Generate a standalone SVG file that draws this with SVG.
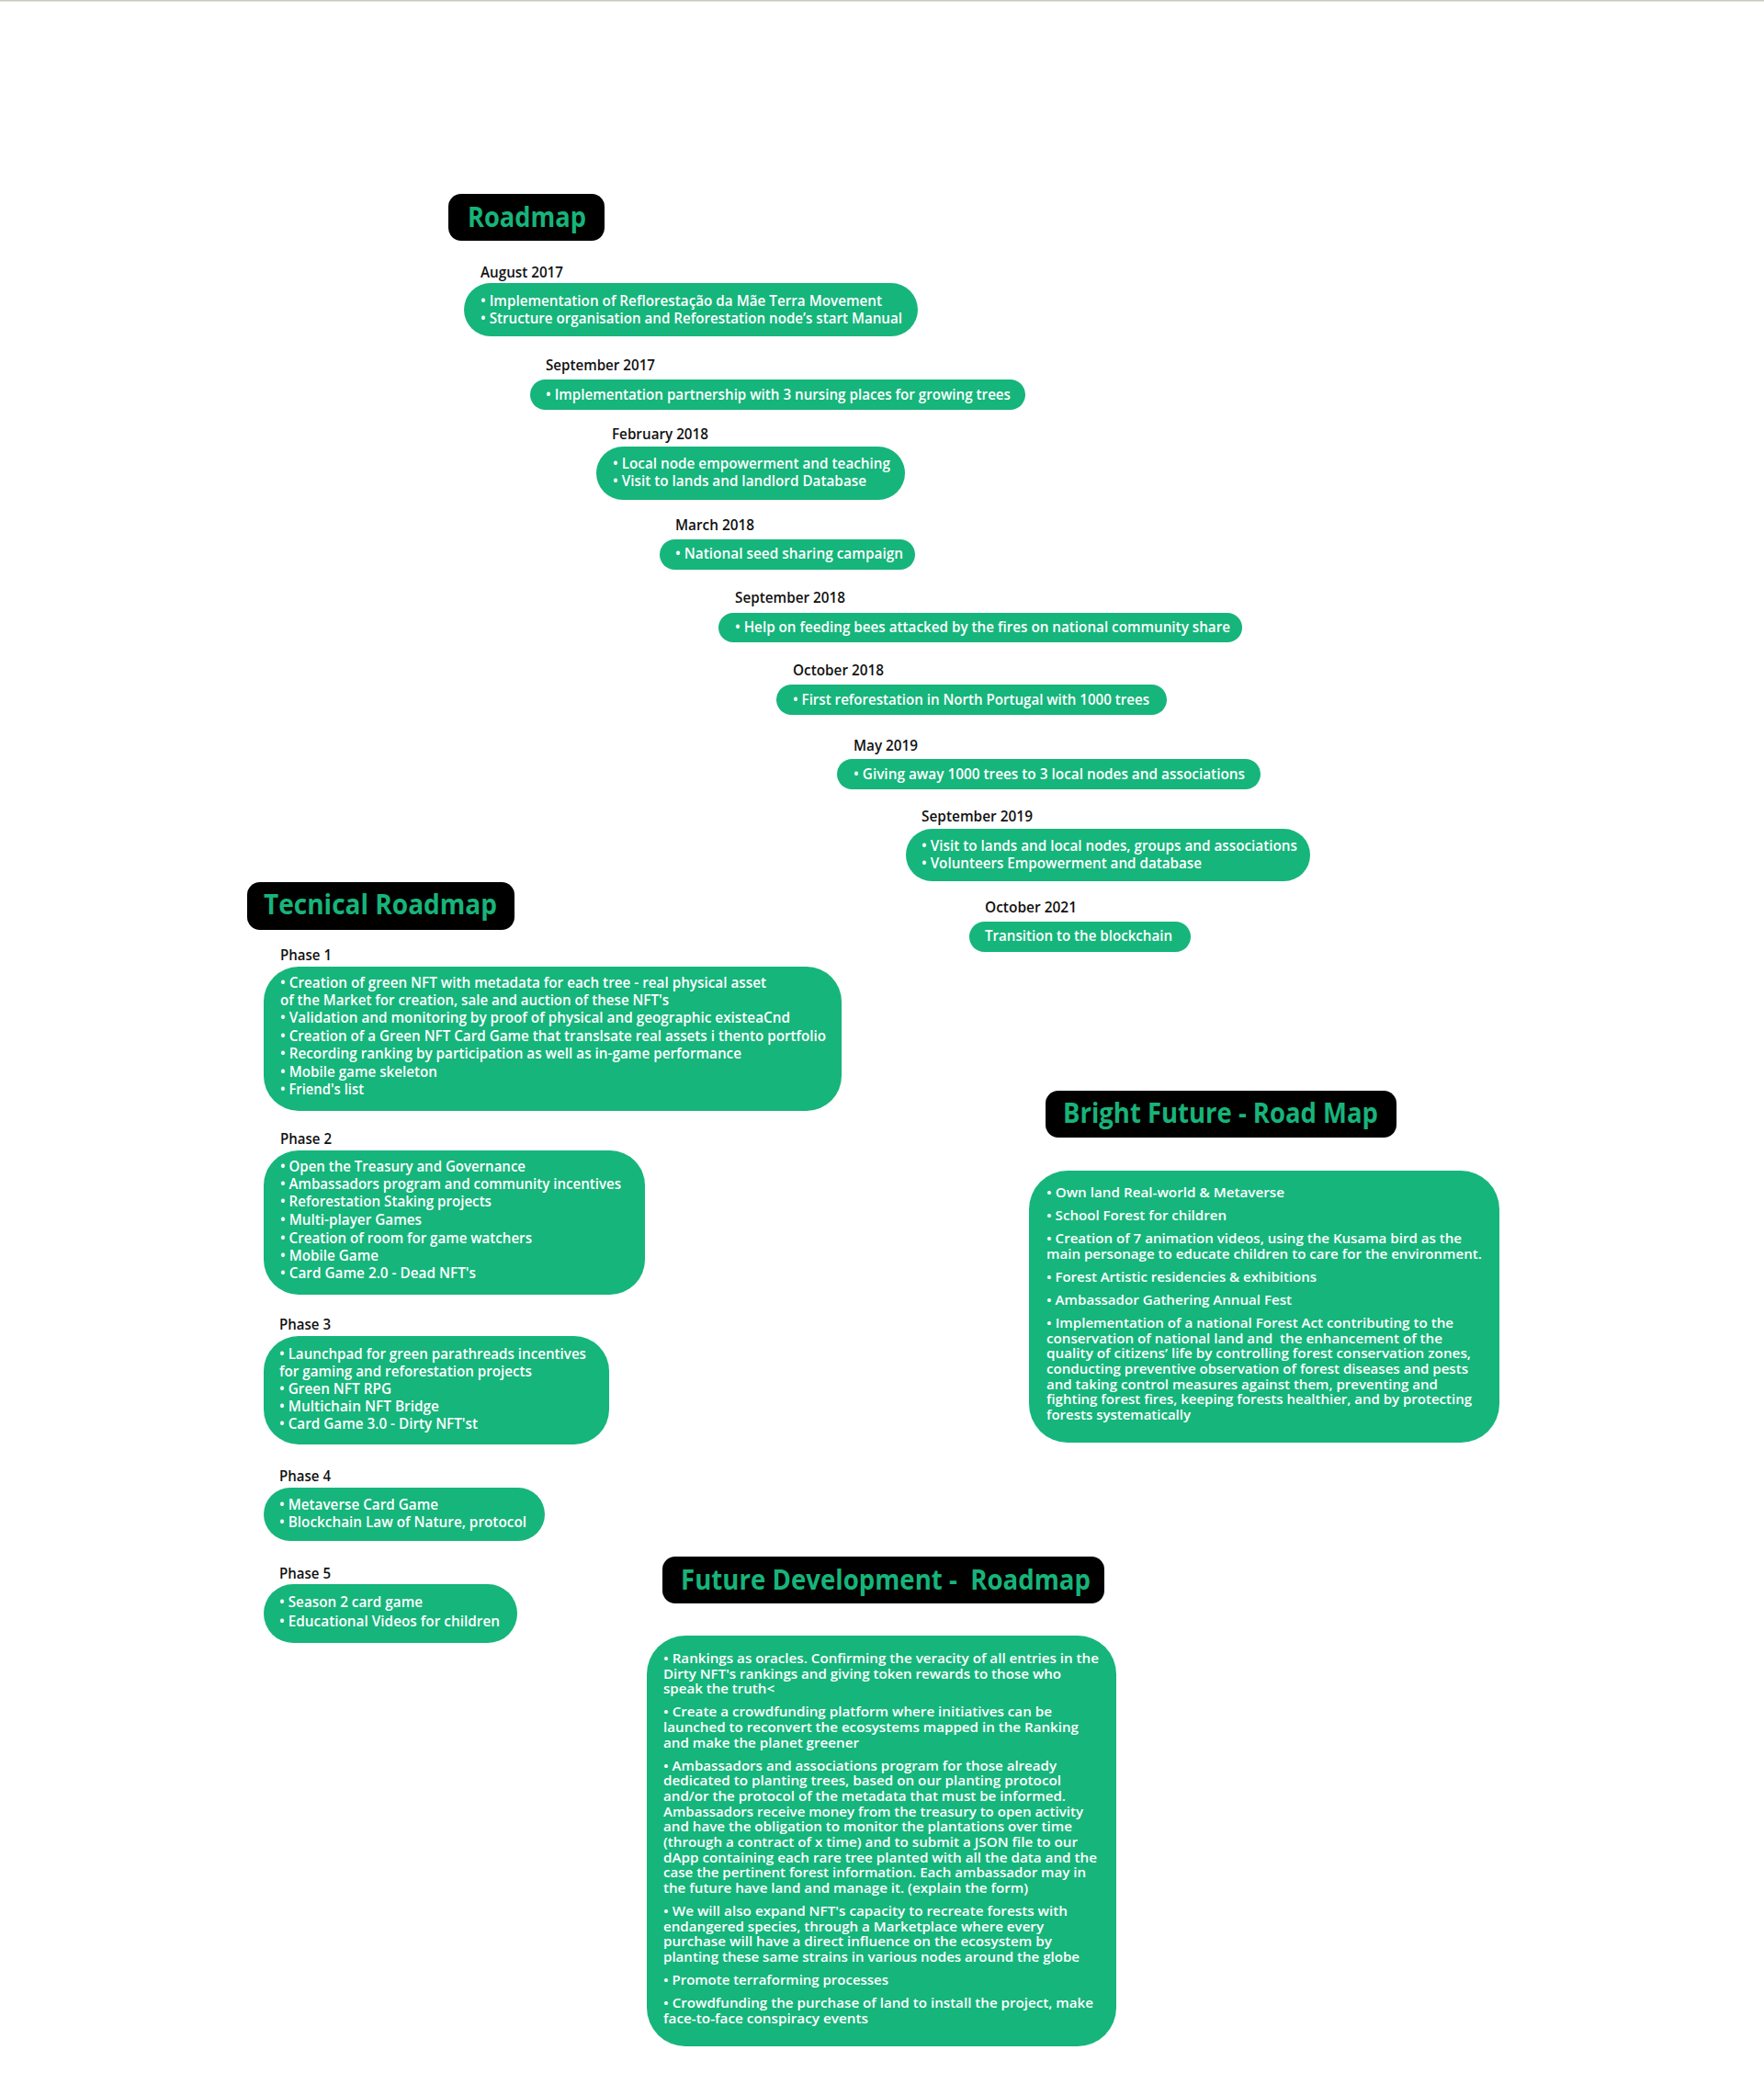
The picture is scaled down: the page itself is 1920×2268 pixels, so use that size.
<svg xmlns="http://www.w3.org/2000/svg" width="1920" height="2268" viewBox="0 0 1920 2268">
<style>
.bg{fill:#ffffff}
.pill{fill:#16b57b}
.tbox{fill:#000000}
.ttl{font-family:"Open Sans","Noto Sans",sans-serif;font-weight:700;font-size:31px;fill:#17b47a;white-space:pre}
.lbl{font-family:"Open Sans","Noto Sans",sans-serif;font-weight:600;font-size:16.5px;fill:#111111}
.pt{font-family:"Open Sans","Noto Sans",sans-serif;font-weight:600;font-size:16.5px;fill:#ffffff}
.par{font-family:"Open Sans","Noto Sans",sans-serif;font-weight:600;font-size:15px;fill:#ffffff;white-space:pre}
</style>
<rect class="bg" x="0" y="0" width="1920" height="2268"/>
<rect x="0" y="0" width="1920" height="1.5" fill="#c9c9bd"/>

<g id="title-roadmap">
<rect class="tbox" x="488" y="211" width="170" height="51" rx="14"/>
<text class="ttl" x="509" y="247" textLength="129" lengthAdjust="spacingAndGlyphs">Roadmap</text>
</g>

<g id="aug2017">
<text class="lbl" x="523" y="302" textLength="90" lengthAdjust="spacingAndGlyphs">August 2017</text>
<rect class="pill" x="505" y="308" width="494" height="58" rx="29"/>
<text class="pt" x="523" y="333" textLength="437" lengthAdjust="spacingAndGlyphs">• Implementation of Reflorestação da Mãe Terra Movement</text>
<text class="pt" x="523" y="352" textLength="459" lengthAdjust="spacingAndGlyphs">• Structure organisation and Reforestation node’s start Manual</text>
</g>

<g id="sep2017">
<text class="lbl" x="594" y="403" textLength="119" lengthAdjust="spacingAndGlyphs">September 2017</text>
<rect class="pill" x="577" y="413" width="539" height="33" rx="16.5"/>
<text class="pt" x="594" y="435" textLength="506" lengthAdjust="spacingAndGlyphs">• Implementation partnership with 3 nursing places for growing trees</text>
</g>

<g id="feb2018">
<text class="lbl" x="666" y="478" textLength="105" lengthAdjust="spacingAndGlyphs">February 2018</text>
<rect class="pill" x="649" y="486" width="336" height="58" rx="29"/>
<text class="pt" x="667" y="510" textLength="302" lengthAdjust="spacingAndGlyphs">• Local node empowerment and teaching</text>
<text class="pt" x="667" y="529" textLength="276" lengthAdjust="spacingAndGlyphs">• Visit to lands and landlord Database</text>
</g>

<g id="mar2018">
<text class="lbl" x="735" y="577" textLength="86" lengthAdjust="spacingAndGlyphs">March 2018</text>
<rect class="pill" x="718" y="587" width="278" height="33" rx="16.5"/>
<text class="pt" x="735" y="608" textLength="248" lengthAdjust="spacingAndGlyphs">• National seed sharing campaign</text>
</g>

<g id="sep2018">
<text class="lbl" x="800" y="656" textLength="120" lengthAdjust="spacingAndGlyphs">September 2018</text>
<rect class="pill" x="782" y="667" width="570" height="32" rx="16"/>
<text class="pt" x="800" y="688" textLength="539" lengthAdjust="spacingAndGlyphs">• Help on feeding bees attacked by the fires on national community share</text>
</g>

<g id="oct2018">
<text class="lbl" x="863" y="735" textLength="99" lengthAdjust="spacingAndGlyphs">October 2018</text>
<rect class="pill" x="845" y="745" width="425" height="33" rx="16.5"/>
<text class="pt" x="863" y="767" textLength="388" lengthAdjust="spacingAndGlyphs">• First reforestation in North Portugal with 1000 trees</text>
</g>

<g id="may2019">
<text class="lbl" x="929" y="817" textLength="70" lengthAdjust="spacingAndGlyphs">May 2019</text>
<rect class="pill" x="911" y="826" width="461" height="33" rx="16.5"/>
<text class="pt" x="929" y="848" textLength="426" lengthAdjust="spacingAndGlyphs">• Giving away 1000 trees to 3 local nodes and associations</text>
</g>

<g id="sep2019">
<text class="lbl" x="1003" y="894" textLength="121" lengthAdjust="spacingAndGlyphs">September 2019</text>
<rect class="pill" x="986" y="902" width="440" height="57" rx="28.5"/>
<text class="pt" x="1003" y="926" textLength="409" lengthAdjust="spacingAndGlyphs">• Visit to lands and local nodes, groups and associations</text>
<text class="pt" x="1003" y="945" textLength="305" lengthAdjust="spacingAndGlyphs">• Volunteers Empowerment and database</text>
</g>

<g id="oct2021">
<text class="lbl" x="1072" y="993" textLength="100" lengthAdjust="spacingAndGlyphs">October 2021</text>
<rect class="pill" x="1055" y="1003" width="241" height="33" rx="16.5"/>
<text class="pt" x="1072" y="1024" textLength="204" lengthAdjust="spacingAndGlyphs">Transition to the blockchain</text>
</g>

<g id="title-tecnical">
<rect class="tbox" x="269" y="960" width="291" height="52" rx="14"/>
<text class="ttl" x="287" y="995" textLength="254" lengthAdjust="spacingAndGlyphs">Tecnical Roadmap</text>
</g>

<g id="phase1">
<text class="lbl" x="305" y="1045" textLength="56" lengthAdjust="spacingAndGlyphs">Phase 1</text>
<rect class="pill" x="287" y="1052" width="629" height="157" rx="38"/>
<text class="pt" x="305" y="1075" textLength="529" lengthAdjust="spacingAndGlyphs">• Creation of green NFT with metadata for each tree - real physical asset</text>
<text class="pt" x="305" y="1094" textLength="423" lengthAdjust="spacingAndGlyphs">of the Market for creation, sale and auction of these NFT's</text>
<text class="pt" x="305" y="1113" textLength="555" lengthAdjust="spacingAndGlyphs">• Validation and monitoring by proof of physical and geographic existeaCnd</text>
<text class="pt" x="305" y="1133" textLength="594" lengthAdjust="spacingAndGlyphs">• Creation of a Green NFT Card Game that translsate real assets i thento portfolio</text>
<text class="pt" x="305" y="1152" textLength="502" lengthAdjust="spacingAndGlyphs">• Recording ranking by participation as well as in-game performance</text>
<text class="pt" x="305" y="1172" textLength="171" lengthAdjust="spacingAndGlyphs">• Mobile game skeleton</text>
<text class="pt" x="305" y="1191" textLength="91" lengthAdjust="spacingAndGlyphs">• Friend's list</text>
</g>

<g id="phase2">
<text class="lbl" x="305" y="1245" textLength="56" lengthAdjust="spacingAndGlyphs">Phase 2</text>
<rect class="pill" x="287" y="1252" width="415" height="157" rx="38"/>
<text class="pt" x="305" y="1275" textLength="267" lengthAdjust="spacingAndGlyphs">• Open the Treasury and Governance</text>
<text class="pt" x="305" y="1294" textLength="371" lengthAdjust="spacingAndGlyphs">• Ambassadors program and community incentives</text>
<text class="pt" x="305" y="1313" textLength="230" lengthAdjust="spacingAndGlyphs">• Reforestation Staking projects</text>
<text class="pt" x="305" y="1333" textLength="154" lengthAdjust="spacingAndGlyphs">• Multi-player Games</text>
<text class="pt" x="305" y="1353" textLength="274" lengthAdjust="spacingAndGlyphs">• Creation of room for game watchers</text>
<text class="pt" x="305" y="1372" textLength="107" lengthAdjust="spacingAndGlyphs">• Mobile Game</text>
<text class="pt" x="305" y="1391" textLength="213" lengthAdjust="spacingAndGlyphs">• Card Game 2.0 - Dead NFT's</text>
</g>

<g id="phase3">
<text class="lbl" x="304" y="1447" textLength="56" lengthAdjust="spacingAndGlyphs">Phase 3</text>
<rect class="pill" x="287" y="1454" width="376" height="118" rx="38"/>
<text class="pt" x="304" y="1479" textLength="334" lengthAdjust="spacingAndGlyphs">• Launchpad for green parathreads incentives</text>
<text class="pt" x="304" y="1498" textLength="275" lengthAdjust="spacingAndGlyphs">for gaming and reforestation projects</text>
<text class="pt" x="304" y="1517" textLength="122" lengthAdjust="spacingAndGlyphs">• Green NFT RPG</text>
<text class="pt" x="304" y="1536" textLength="174" lengthAdjust="spacingAndGlyphs">• Multichain NFT Bridge</text>
<text class="pt" x="304" y="1555" textLength="216" lengthAdjust="spacingAndGlyphs">• Card Game 3.0 - Dirty NFT'st</text>
</g>

<g id="phase4">
<text class="lbl" x="304" y="1612" textLength="56" lengthAdjust="spacingAndGlyphs">Phase 4</text>
<rect class="pill" x="287" y="1619" width="306" height="58" rx="29"/>
<text class="pt" x="304" y="1643" textLength="173" lengthAdjust="spacingAndGlyphs">• Metaverse Card Game</text>
<text class="pt" x="304" y="1662" textLength="269" lengthAdjust="spacingAndGlyphs">• Blockchain Law of Nature, protocol</text>
</g>

<g id="phase5">
<text class="lbl" x="304" y="1718" textLength="56" lengthAdjust="spacingAndGlyphs">Phase 5</text>
<rect class="pill" x="287" y="1724" width="276" height="64" rx="32"/>
<text class="pt" x="304" y="1749" textLength="156" lengthAdjust="spacingAndGlyphs">• Season 2 card game</text>
<text class="pt" x="304" y="1770" textLength="240" lengthAdjust="spacingAndGlyphs">• Educational Videos for children</text>
</g>

<g id="title-bright">
<rect class="tbox" x="1138" y="1187" width="382" height="51" rx="14"/>
<text class="ttl" x="1157" y="1222" textLength="343" lengthAdjust="spacingAndGlyphs">Bright Future - Road Map</text>
</g>

<g id="bright-future">
<rect class="pill" x="1120" y="1274" width="512" height="296" rx="42"/>
<text class="par" x="1139" y="1303" textLength="259" lengthAdjust="spacingAndGlyphs">• Own land Real-world &amp; Metaverse</text>
<text class="par" x="1139" y="1328" textLength="196" lengthAdjust="spacingAndGlyphs">• School Forest for children</text>
<text class="par" x="1139" y="1353" textLength="452" lengthAdjust="spacingAndGlyphs">• Creation of 7 animation videos, using the Kusama bird as the</text>
<text class="par" x="1139" y="1370" textLength="474" lengthAdjust="spacingAndGlyphs">main personage to educate children to care for the environment.</text>
<text class="par" x="1139" y="1395" textLength="294" lengthAdjust="spacingAndGlyphs">• Forest Artistic residencies &amp; exhibitions</text>
<text class="par" x="1139" y="1420" textLength="267" lengthAdjust="spacingAndGlyphs">• Ambassador Gathering Annual Fest</text>
<text class="par" x="1139" y="1445" textLength="443" lengthAdjust="spacingAndGlyphs">• Implementation of a national Forest Act contributing to the</text>
<text class="par" x="1139" y="1462" textLength="431" lengthAdjust="spacingAndGlyphs">conservation of national land and  the enhancement of the</text>
<text class="par" x="1139" y="1478" textLength="462" lengthAdjust="spacingAndGlyphs">quality of citizens’ life by controlling forest conservation zones,</text>
<text class="par" x="1139" y="1495" textLength="459" lengthAdjust="spacingAndGlyphs">conducting preventive observation of forest diseases and pests</text>
<text class="par" x="1139" y="1512" textLength="426" lengthAdjust="spacingAndGlyphs">and taking control measures against them, preventing and</text>
<text class="par" x="1139" y="1528" textLength="463" lengthAdjust="spacingAndGlyphs">fighting forest fires, keeping forests healthier, and by protecting</text>
<text class="par" x="1139" y="1545" textLength="157" lengthAdjust="spacingAndGlyphs">forests systematically</text>
</g>

<g id="title-future-dev">
<rect class="tbox" x="721" y="1694" width="481" height="51" rx="14"/>
<text class="ttl" x="741" y="1730" textLength="446" lengthAdjust="spacingAndGlyphs">Future Development -  Roadmap</text>
</g>

<g id="future-dev">
<rect class="pill" x="704" y="1780" width="511" height="447" rx="42"/>
<text class="par" x="722" y="1810" textLength="474" lengthAdjust="spacingAndGlyphs">• Rankings as oracles. Confirming the veracity of all entries in the</text>
<text class="par" x="722" y="1827" textLength="433" lengthAdjust="spacingAndGlyphs">Dirty NFT's rankings and giving token rewards to those who</text>
<text class="par" x="722" y="1843" textLength="121" lengthAdjust="spacingAndGlyphs">speak the truth&lt;</text>
<text class="par" x="722" y="1868" textLength="423" lengthAdjust="spacingAndGlyphs">• Create a crowdfunding platform where initiatives can be</text>
<text class="par" x="722" y="1885" textLength="452" lengthAdjust="spacingAndGlyphs">launched to reconvert the ecosystems mapped in the Ranking</text>
<text class="par" x="722" y="1902" textLength="213" lengthAdjust="spacingAndGlyphs">and make the planet greener</text>
<text class="par" x="722" y="1927" textLength="428" lengthAdjust="spacingAndGlyphs">• Ambassadors and associations program for those already</text>
<text class="par" x="722" y="1943" textLength="433" lengthAdjust="spacingAndGlyphs">dedicated to planting trees, based on our planting protocol</text>
<text class="par" x="722" y="1960" textLength="438" lengthAdjust="spacingAndGlyphs">and/or the protocol of the metadata that must be informed.</text>
<text class="par" x="722" y="1977" textLength="457" lengthAdjust="spacingAndGlyphs">Ambassadors receive money from the treasury to open activity</text>
<text class="par" x="722" y="1993" textLength="445" lengthAdjust="spacingAndGlyphs">and have the obligation to monitor the plantations over time</text>
<text class="par" x="722" y="2010" textLength="451" lengthAdjust="spacingAndGlyphs">(through a contract of x time) and to submit a JSON file to our</text>
<text class="par" x="722" y="2027" textLength="472" lengthAdjust="spacingAndGlyphs">dApp containing each rare tree planted with all the data and the</text>
<text class="par" x="722" y="2043" textLength="460" lengthAdjust="spacingAndGlyphs">case the pertinent forest information. Each ambassador may in</text>
<text class="par" x="722" y="2060" textLength="397" lengthAdjust="spacingAndGlyphs">the future have land and manage it. (explain the form)</text>
<text class="par" x="722" y="2085" textLength="440" lengthAdjust="spacingAndGlyphs">• We will also expand NFT's capacity to recreate forests with</text>
<text class="par" x="722" y="2102" textLength="414" lengthAdjust="spacingAndGlyphs">endangered species, through a Marketplace where every</text>
<text class="par" x="722" y="2118" textLength="423" lengthAdjust="spacingAndGlyphs">purchase will have a direct influence on the ecosystem by</text>
<text class="par" x="722" y="2135" textLength="453" lengthAdjust="spacingAndGlyphs">planting these same strains in various nodes around the globe</text>
<text class="par" x="722" y="2160" textLength="245" lengthAdjust="spacingAndGlyphs">• Promote terraforming processes</text>
<text class="par" x="722" y="2185" textLength="468" lengthAdjust="spacingAndGlyphs">• Crowdfunding the purchase of land to install the project, make</text>
<text class="par" x="722" y="2202" textLength="223" lengthAdjust="spacingAndGlyphs">face-to-face conspiracy events</text>
</g>

<g id="connectors"></g>
</svg>
